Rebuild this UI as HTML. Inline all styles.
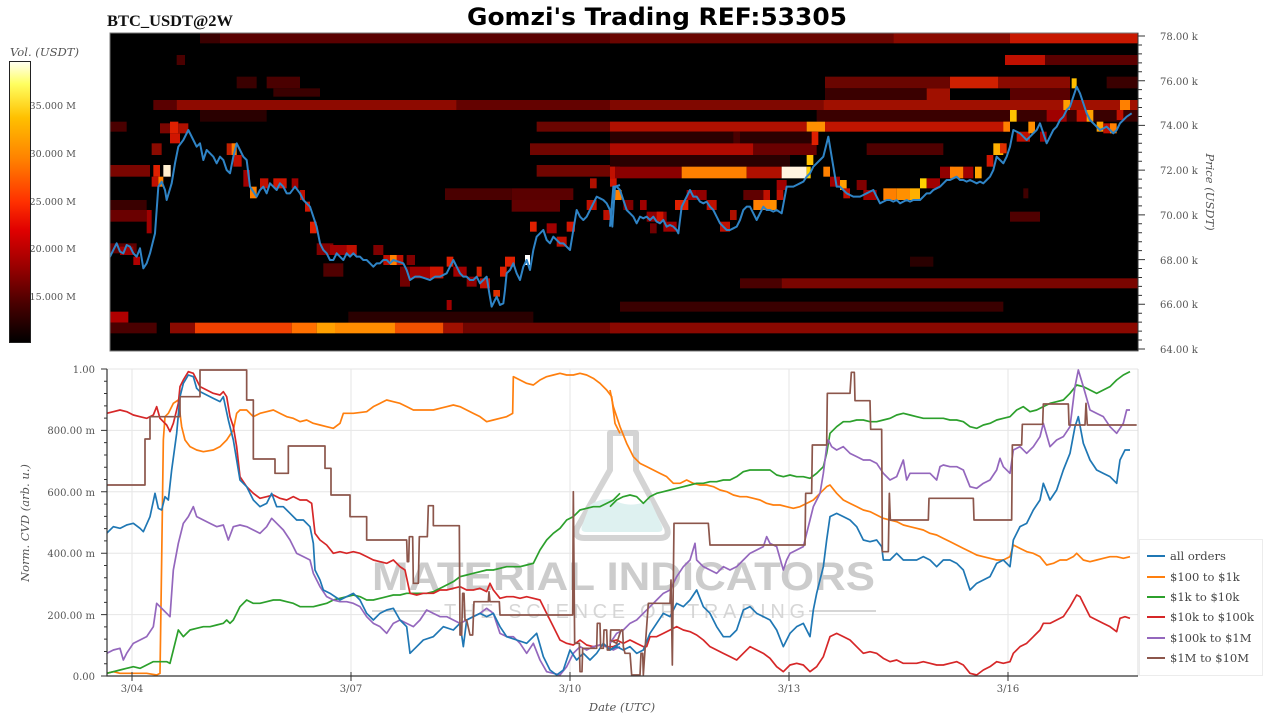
<!DOCTYPE html>
<html><head><meta charset="utf-8"><style>
html,body{margin:0;padding:0;background:#fff;}
svg{display:block;}
.tk{font-family:"DejaVu Serif","Liberation Serif",serif;font-size:10px;fill:#555;}
.lg{font-family:"DejaVu Serif","Liberation Serif",serif;font-size:11.5px;fill:#444;}
.it{font-family:"DejaVu Serif","Liberation Serif",serif;font-style:italic;font-size:11.5px;fill:#555;}
</style></head><body>
<svg width="1280" height="720" viewBox="0 0 1280 720" xmlns="http://www.w3.org/2000/svg">
<defs>
<linearGradient id="cb" x1="0" y1="0" x2="0" y2="1">
<stop offset="0" stop-color="#fffff4"/><stop offset="0.08" stop-color="#ffff60"/><stop offset="0.2" stop-color="#ffc000"/><stop offset="0.35" stop-color="#ff8000"/><stop offset="0.5" stop-color="#ff3000"/><stop offset="0.6" stop-color="#e00000"/><stop offset="0.72" stop-color="#a00000"/><stop offset="0.86" stop-color="#4a0000"/><stop offset="1" stop-color="#000"/>
</linearGradient>
<clipPath id="hc"><rect x="110" y="33" width="1028" height="318"/></clipPath>
<clipPath id="bc"><rect x="107" y="366" width="1031" height="312"/></clipPath>
</defs>
<rect width="1280" height="720" fill="#fff"/>

<!-- titles -->
<text x="467" y="25" font-family="DejaVu Sans,Liberation Sans,sans-serif" font-weight="bold" font-size="24" textLength="380" lengthAdjust="spacingAndGlyphs" fill="#000">Gomzi's Trading REF:53305</text>
<text x="107" y="26" font-family="Liberation Serif,DejaVu Serif,serif" font-weight="bold" font-size="16" textLength="126" lengthAdjust="spacingAndGlyphs" fill="#111">BTC_USDT@2W</text>

<!-- colorbar -->
<text x="10" y="56" class="it" textLength="69" lengthAdjust="spacingAndGlyphs">Vol. (USDT)</text>
<g class="tk" text-anchor="end" style="font-size:9.6px">
<text x="76" y="109">35.000 M</text><text x="76" y="157">30.000 M</text><text x="76" y="205">25.000 M</text><text x="76" y="252">20.000 M</text><text x="76" y="300">15.000 M</text>
</g>
<rect x="9.5" y="61.5" width="21" height="281" fill="url(#cb)" stroke="#222" stroke-width="1"/>

<!-- heatmap -->
<rect x="110" y="33" width="1028" height="318" fill="#000"/>
<g clip-path="url(#hc)">
<g transform="translate(100,30) scale(0.33333)">
<rect x="300" y="10" width="60" height="30" fill="#3a0000"/><rect x="360" y="10" width="1200" height="30" fill="#5a0000"/>
<rect x="230" y="75" width="25" height="30" fill="#4a0000"/>
<rect x="410" y="140" width="60" height="35" fill="#3a0000"/><rect x="500" y="140" width="100" height="35" fill="#4a0000"/><rect x="520" y="175" width="140" height="25" fill="#3a0000"/>
<rect x="160" y="210" width="70" height="30" fill="#5a0000"/><rect x="230" y="210" width="840" height="30" fill="#8e0a00"/><rect x="1070" y="210" width="490" height="30" fill="#640200"/>
<rect x="300" y="240" width="200" height="35" fill="#2a0000"/>
<rect x="30" y="275" width="50" height="30" fill="#4a0000"/><rect x="1310" y="275" width="250" height="30" fill="#6a0500"/>
<rect x="1290" y="340" width="270" height="35" fill="#700500"/>
<rect x="30" y="405" width="120" height="35" fill="#7a0500"/><rect x="1310" y="405" width="250" height="35" fill="#700500"/>
<rect x="1035" y="475" width="200" height="35" fill="#4a0000"/><rect x="1235" y="475" width="185" height="35" fill="#5a0000"/>
<rect x="30" y="510" width="110" height="30" fill="#3a0000"/><rect x="1235" y="510" width="145" height="35" fill="#600000"/>
<rect x="30" y="540" width="110" height="35" fill="#6a0000"/>
<rect x="30" y="845" width="55" height="33" fill="#b00000"/><rect x="745" y="845" width="555" height="33" fill="#2a0000"/>
<rect x="30" y="878" width="140" height="32" fill="#4a0000"/><rect x="210" y="878" width="75" height="32" fill="#8a0a00"/><rect x="285" y="878" width="290" height="32" fill="#f04000"/><rect x="575" y="878" width="75" height="32" fill="#ff7000"/><rect x="650" y="878" width="55" height="32" fill="#ffa000"/><rect x="705" y="878" width="180" height="32" fill="#ff8c00"/><rect x="885" y="878" width="145" height="32" fill="#f05000"/><rect x="1030" y="878" width="60" height="32" fill="#a01000"/><rect x="1090" y="878" width="470" height="32" fill="#700500"/>
<!-- cells -->
<rect x="155" y="340" width="30" height="35" fill="#8a0a00"/><rect x="180" y="280" width="30" height="30" fill="#7a0500"/><rect x="210" y="275" width="25" height="35" fill="#e02000"/><rect x="210" y="310" width="30" height="30" fill="#d01500"/><rect x="235" y="280" width="30" height="30" fill="#b01000"/>
<rect x="160" y="405" width="20" height="35" fill="#e02000"/><rect x="190" y="405" width="22" height="35" fill="#fff0d0"/><rect x="155" y="440" width="20" height="30" fill="#c01000"/><rect x="175" y="440" width="15" height="30" fill="#ff8000"/>
<rect x="140" y="540" width="15" height="70" fill="#a00000"/>
<rect x="30" y="640" width="80" height="30" fill="#600000"/><rect x="60" y="650" width="40" height="25" fill="#a00000"/><rect x="100" y="680" width="20" height="25" fill="#b00000"/>
<rect x="380" y="340" width="30" height="35" fill="#c02000"/><rect x="395" y="340" width="15" height="35" fill="#ff8000"/><rect x="400" y="375" width="25" height="35" fill="#c01000"/><rect x="430" y="420" width="20" height="50" fill="#a00000"/><rect x="450" y="470" width="20" height="35" fill="#ff8000"/>
<rect x="480" y="445" width="25" height="30" fill="#c01000"/><rect x="520" y="445" width="40" height="30" fill="#d01500"/><rect x="575" y="445" width="20" height="30" fill="#a00000"/><rect x="600" y="480" width="15" height="30" fill="#c01000"/><rect x="615" y="515" width="15" height="30" fill="#d01500"/><rect x="630" y="575" width="20" height="35" fill="#e02000"/>
<rect x="650" y="640" width="50" height="35" fill="#800000"/><rect x="690" y="645" width="80" height="30" fill="#a00000"/><rect x="740" y="645" width="30" height="30" fill="#c01000"/><rect x="820" y="645" width="30" height="30" fill="#800000"/><rect x="850" y="675" width="60" height="30" fill="#c01000"/><rect x="870" y="675" width="20" height="30" fill="#ff8000"/><rect x="920" y="675" width="25" height="30" fill="#800000"/>
<rect x="670" y="700" width="60" height="40" fill="#500000"/><rect x="900" y="710" width="30" height="60" fill="#700000"/>
<rect x="930" y="710" width="100" height="35" fill="#a00000"/><rect x="990" y="710" width="40" height="35" fill="#d01500"/><rect x="1040" y="680" width="20" height="30" fill="#e02000"/><rect x="1060" y="710" width="40" height="30" fill="#a00000"/><rect x="1100" y="740" width="30" height="30" fill="#900000"/><rect x="1130" y="710" width="15" height="30" fill="#d02000"/><rect x="1140" y="745" width="30" height="30" fill="#c01000"/><rect x="1180" y="780" width="20" height="20" fill="#e03000"/><rect x="1200" y="710" width="20" height="30" fill="#e02000"/><rect x="1215" y="680" width="30" height="30" fill="#e02000"/><rect x="1275" y="675" width="15" height="30" fill="#ffffff"/>
<rect x="1040" y="810" width="15" height="30" fill="#a00000"/>
<rect x="1290" y="575" width="20" height="30" fill="#e02000"/><rect x="1340" y="580" width="30" height="30" fill="#a00000"/><rect x="1370" y="620" width="30" height="30" fill="#c01000"/><rect x="1400" y="575" width="25" height="30" fill="#d01500"/><rect x="1460" y="510" width="30" height="30" fill="#c01000"/><rect x="1470" y="445" width="20" height="30" fill="#b01000"/><rect x="1530" y="440" width="20" height="30" fill="#d01500"/><rect x="1510" y="540" width="20" height="30" fill="#c01000"/><rect x="1545" y="480" width="20" height="30" fill="#ff8000"/>
</g>
<g transform="translate(610,30) scale(0.33333)">
<rect x="0" y="10" width="850" height="30" fill="#6a0500"/><rect x="850" y="10" width="350" height="30" fill="#8a0a00"/><rect x="1200" y="10" width="390" height="30" fill="#c81800"/>
<rect x="1185" y="75" width="120" height="30" fill="#c01000"/><rect x="1305" y="75" width="285" height="30" fill="#5a0000"/>
<rect x="645" y="140" width="375" height="35" fill="#6a0500"/><rect x="1020" y="140" width="145" height="35" fill="#d02000"/><rect x="1165" y="140" width="215" height="35" fill="#8a0a00"/><rect x="1490" y="140" width="100" height="35" fill="#3a0000"/>
<rect x="645" y="175" width="305" height="35" fill="#3a0000"/><rect x="950" y="175" width="70" height="35" fill="#a01000"/><rect x="1200" y="175" width="180" height="35" fill="#5a0000"/>
<rect x="0" y="210" width="640" height="30" fill="#800800"/><rect x="640" y="210" width="950" height="30" fill="#a01000"/>
<rect x="620" y="240" width="970" height="35" fill="#3a0000"/>
<rect x="0" y="275" width="590" height="30" fill="#b01000"/><rect x="590" y="275" width="55" height="30" fill="#ff9000"/><rect x="645" y="275" width="555" height="30" fill="#c01500"/>
<rect x="0" y="305" width="620" height="35" fill="#2a0000"/><rect x="370" y="305" width="20" height="35" fill="#4a0000"/>
<rect x="0" y="340" width="430" height="35" fill="#b00a00"/><rect x="430" y="340" width="190" height="35" fill="#6a0000"/><rect x="770" y="340" width="230" height="35" fill="#500000"/>
<rect x="0" y="375" width="540" height="35" fill="#2a0000"/>
<rect x="0" y="410" width="215" height="35" fill="#8a0000"/><rect x="215" y="410" width="195" height="35" fill="#ff8000"/><rect x="410" y="410" width="105" height="35" fill="#b01000"/><rect x="515" y="410" width="75" height="35" fill="#fff4e0"/><rect x="590" y="410" width="12" height="35" fill="#ffd000"/>
<rect x="390" y="745" width="125" height="30" fill="#4a0000"/><rect x="515" y="745" width="1075" height="30" fill="#7a0500"/>
<rect x="30" y="815" width="1150" height="30" fill="#3a0000"/>
<rect x="0" y="878" width="1590" height="32" fill="#8a0800"/>
<rect x="900" y="680" width="70" height="30" fill="#2a0000"/>
<!-- cells -->
<rect x="0" y="410" width="15" height="35" fill="#c01000"/><rect x="15" y="480" width="15" height="30" fill="#ff8000"/><rect x="40" y="510" width="30" height="30" fill="#800000"/><rect x="90" y="510" width="20" height="30" fill="#a00000"/><rect x="110" y="545" width="60" height="30" fill="#900000"/><rect x="140" y="545" width="20" height="30" fill="#d01500"/><rect x="160" y="575" width="40" height="30" fill="#a00000"/><rect x="120" y="580" width="20" height="30" fill="#700000"/>
<rect x="195" y="510" width="40" height="30" fill="#e02000"/><rect x="230" y="480" width="30" height="30" fill="#a00000"/><rect x="260" y="480" width="30" height="30" fill="#900000"/><rect x="290" y="510" width="30" height="30" fill="#c01000"/><rect x="330" y="575" width="30" height="30" fill="#c01000"/><rect x="360" y="540" width="20" height="30" fill="#b01000"/><rect x="400" y="480" width="60" height="30" fill="#600000"/><rect x="430" y="510" width="50" height="30" fill="#ff8000"/><rect x="460" y="480" width="20" height="30" fill="#c01000"/><rect x="480" y="510" width="20" height="30" fill="#ff9000"/><rect x="500" y="480" width="20" height="30" fill="#c01000"/><rect x="500" y="450" width="30" height="30" fill="#a00000"/>
<rect x="605" y="305" width="20" height="40" fill="#e02000"/><rect x="590" y="375" width="20" height="30" fill="#ffc000"/><rect x="640" y="410" width="20" height="30" fill="#ff8000"/><rect x="660" y="440" width="30" height="30" fill="#a00000"/><rect x="690" y="450" width="20" height="30" fill="#ffa000"/><rect x="700" y="475" width="20" height="30" fill="#c01000"/><rect x="740" y="450" width="30" height="30" fill="#800000"/><rect x="760" y="480" width="40" height="30" fill="#a00000"/><rect x="820" y="475" width="40" height="35" fill="#ff8000"/><rect x="860" y="475" width="40" height="35" fill="#ff9000"/><rect x="900" y="475" width="30" height="35" fill="#ffb000"/><rect x="930" y="445" width="20" height="30" fill="#ffd000"/><rect x="950" y="445" width="40" height="30" fill="#a00000"/><rect x="990" y="410" width="40" height="35" fill="#900000"/><rect x="1020" y="410" width="40" height="35" fill="#ff8000"/><rect x="1060" y="410" width="30" height="35" fill="#a00000"/><rect x="1095" y="410" width="20" height="35" fill="#ffa000"/><rect x="1130" y="375" width="20" height="35" fill="#d01500"/><rect x="1150" y="340" width="30" height="35" fill="#ffb000"/><rect x="1170" y="340" width="20" height="30" fill="#e03000"/>
<rect x="1200" y="240" width="20" height="35" fill="#ffc000"/><rect x="1180" y="275" width="20" height="30" fill="#ff8000"/><rect x="1220" y="305" width="40" height="30" fill="#c01000"/><rect x="1255" y="275" width="20" height="35" fill="#ff9000"/><rect x="1290" y="305" width="20" height="30" fill="#a00000"/><rect x="1310" y="240" width="60" height="35" fill="#a00000"/><rect x="1360" y="210" width="20" height="30" fill="#ffa000"/><rect x="1385" y="145" width="15" height="30" fill="#ffc000"/><rect x="1400" y="240" width="40" height="35" fill="#c01000"/><rect x="1430" y="240" width="20" height="35" fill="#ffa000"/><rect x="1460" y="275" width="20" height="30" fill="#ffa000"/><rect x="1480" y="280" width="30" height="30" fill="#c01000"/><rect x="1500" y="280" width="20" height="30" fill="#ff8000"/><rect x="1520" y="240" width="20" height="30" fill="#c01000"/><rect x="1530" y="210" width="30" height="30" fill="#ff8000"/><rect x="1545" y="210" width="15" height="30" fill="#ff8000"/>
<rect x="1240" y="475" width="15" height="30" fill="#400000"/><rect x="1200" y="545" width="90" height="30" fill="#500000"/>
</g>
<!-- price line -->
<g transform="translate(100,30) scale(0.33333)" fill="none" stroke="#2f84c6" stroke-width="2" stroke-linejoin="round">
<polyline vector-effect="non-scaling-stroke" points="24,710 24,640 30,680 50,640 60,665 70,670 80,645 90,650 100,670 110,680 120,655 130,715 140,700 150,670 165,610 175,470 185,455 195,480 200,510 215,460 225,400 235,350 250,330 265,300 280,330 290,350 300,340 310,390 320,360 330,370 340,380 350,400 360,380 370,390 380,420 390,430 400,380 410,340 420,360 430,380 440,390 450,470 470,500 480,480 490,470 500,490 510,460 520,470 530,480 540,460 550,470 560,490 570,490 585,470 600,490 610,510 620,520 630,530 640,560 650,590 660,640 670,660 680,670 690,690 700,690 710,670 720,680 730,690 740,670 750,680 760,670 770,680 780,680 790,690 800,690 810,700 820,710 830,700 840,700 850,690 860,690 870,700 880,690 895,695 910,700 920,720 930,750 945,740 960,740 975,745 990,750 1005,740 1020,740 1040,730 1060,690 1070,710 1080,730 1090,740 1100,740 1110,750 1120,750 1130,740 1140,760 1150,750 1160,740 1168,790 1175,830 1185,810 1190,800 1200,825 1210,820 1215,780 1220,730 1230,720 1240,700 1250,730 1260,750 1270,710 1280,690 1290,720 1300,660 1310,620 1320,610 1330,600 1340,630 1350,640 1360,620 1370,630 1380,640 1390,640 1400,650 1410,660 1420,600 1430,540 1440,560 1450,570 1460,560 1470,540 1480,520 1490,500 1500,505 1510,510 1520,520 1530,540 1537,590 1545,470 1560,465"/>
</g>
<g transform="translate(610,30) scale(0.33333)" fill="none" stroke="#2f84c6" stroke-width="2" stroke-linejoin="round">
<polyline vector-effect="non-scaling-stroke" points="0,590 10,470 20,470 30,480 40,510 50,540 60,550 70,560 80,580 90,560 100,565 110,560 120,570 130,560 140,575 150,580 160,570 170,590 180,585 190,590 200,600 205,610 215,530 225,510 240,480 250,500 260,500 270,515 280,520 290,515 300,530 310,540 320,560 330,580 340,590 350,600 360,600 370,595 380,590 390,570 400,540 410,530 420,530 430,550 440,570 450,550 460,530 470,540 480,540 490,545 500,540 515,550 530,470 540,470 550,470 560,465 570,460 580,455 590,440 600,430 610,410 620,400 630,390 640,380 645,360 655,320 665,380 675,440 680,470 690,470 700,480 710,490 720,495 730,500 740,500 750,500 760,495 770,490 780,485 790,480 800,500 810,520 820,515 830,510 840,510 850,515 860,510 870,520 880,515 890,510 900,515 910,510 920,510 930,510 940,500 950,490 960,490 970,480 980,475 990,470 1000,460 1010,450 1020,450 1030,445 1040,440 1050,450 1060,450 1070,455 1080,450 1090,455 1100,460 1110,455 1120,460 1130,450 1140,440 1150,420 1160,380 1170,390 1180,400 1190,380 1200,350 1210,300 1220,305 1230,310 1240,320 1250,330 1260,320 1270,310 1280,300 1290,280 1300,310 1310,340 1320,320 1330,300 1340,290 1350,270 1360,260 1370,240 1380,230 1390,200 1400,170 1410,190 1420,220 1430,250 1440,270 1450,280 1460,290 1470,300 1480,295 1490,290 1500,300 1510,310 1520,300 1530,280 1540,270 1550,260 1565,250"/>
</g>
</g>
<rect x="110" y="33" width="1028" height="318" fill="none" stroke="#777" stroke-width="1"/>

<!-- price axis -->
<path d="M1138,33V351" stroke="#333" stroke-width="1"/>
<path stroke="#333" stroke-width="1" d="M1138,36h7M1138,44.94h4M1138,53.89h4M1138,62.83h4M1138,71.77h4M1138,80.71h7M1138,89.66h4M1138,98.6h4M1138,107.54h4M1138,116.49h4M1138,125.43h7M1138,134.37h4M1138,143.31h4M1138,152.26h4M1138,161.2h4M1138,170.14h7M1138,179.09h4M1138,188.03h4M1138,196.97h4M1138,205.91h4M1138,214.86h7M1138,223.8h4M1138,232.74h4M1138,241.69h4M1138,250.63h4M1138,259.57h7M1138,268.51h4M1138,277.46h4M1138,286.4h4M1138,295.34h4M1138,304.29h7M1138,313.23h4M1138,322.17h4M1138,331.11h4M1138,340.06h4M1138,349h7"/>
<g class="tk">
<text x="1160" y="40">78.00 k</text><text x="1160" y="85">76.00 k</text><text x="1160" y="129">74.00 k</text><text x="1160" y="174">72.00 k</text><text x="1160" y="219">70.00 k</text><text x="1160" y="264">68.00 k</text><text x="1160" y="308">66.00 k</text><text x="1160" y="353">64.00 k</text>
</g>
<text class="it" transform="translate(1206,192) rotate(90)" text-anchor="middle">Price (USDT)</text>

<!-- bottom chart grid -->
<g stroke="#e6e6e6" stroke-width="1">
<path d="M107,369H1138M107,430.4H1138M107,491.8H1138M107,553.2H1138M107,614.6H1138"/>
<path d="M132,369V676M351,369V676M570,369V676M789,369V676M1008,369V676"/>
</g>
<path d="M1138,369V676" stroke="#ddd" stroke-width="1"/>

<!-- watermark -->
<g opacity="0.85">
<path d="M610,433 H636 V470 L667,528 Q670,538 660,538 H584 Q574,538 577,528 L610,470 Z" fill="none" stroke="#cdcdcd" stroke-width="6" stroke-linejoin="round"/>
<path d="M590,505 Q605,495 618,502 Q632,508 650,500 L662,526 Q664,532 658,532 H586 Q580,532 582,526 Z" fill="#d9efee"/>
<text x="372" y="590" font-family="Liberation Sans,DejaVu Sans,sans-serif" font-weight="bold" font-size="40" fill="#c4c4c4" textLength="503" lengthAdjust="spacingAndGlyphs">MATERIAL INDICATORS</text>
<text x="444" y="618" font-family="Liberation Sans,DejaVu Sans,sans-serif" font-size="20" fill="#cfcfcf" textLength="361" lengthAdjust="spacing">THE SCIENCE OF TRADING</text>
<path d="M372,611H440M809,611H876" stroke="#cfcfcf" stroke-width="2"/>
</g>

<!-- series -->
<g clip-path="url(#bc)" fill="none" stroke-width="1.7" stroke-linejoin="round">
<g transform="translate(100,360) scale(0.33333)">
<polyline vector-effect="non-scaling-stroke" stroke="#ff7f0e" points="20,940 40,935 60,940 100,940 140,940 170,945 180,940 185,600 190,240 195,170 205,160 220,130 235,120 245,200 255,240 270,260 290,270 310,275 340,270 360,260 380,240 400,210 410,160 420,150 440,150 460,170 480,160 500,155 520,150 540,160 560,170 580,175 600,185 620,180 640,190 660,195 680,200 700,205 720,190 730,160 760,160 800,155 820,140 840,130 860,120 880,125 900,130 920,140 940,150 960,150 980,150 1000,150 1020,145 1040,140 1060,135 1080,140 1100,150 1120,160 1140,170 1160,185 1180,180 1200,175 1220,170 1238,160 1240,50 1260,60 1280,70 1300,75 1320,60 1340,50 1360,45 1380,40 1400,45 1420,45 1440,40 1460,45 1480,55 1500,70 1520,90 1535,110 1545,190 1560,220"/>
<polyline vector-effect="non-scaling-stroke" stroke="#2ca02c" points="20,940 40,935 60,930 80,925 100,920 120,925 140,915 160,905 180,905 200,905 210,910 220,870 235,810 250,830 270,810 290,805 310,800 330,800 350,795 370,790 380,780 390,790 400,780 410,760 420,740 440,720 460,730 480,730 500,725 520,720 540,720 560,725 580,730 600,740 620,740 640,740 660,735 680,730 700,720 720,715 740,710 760,705 780,710 800,720 820,720 840,715 860,710 880,705 900,705 920,700 940,700 960,700 980,700 1000,695 1020,685 1040,675 1060,665 1080,650 1100,645 1120,640 1140,635 1160,630 1180,630 1200,625 1220,620 1240,620 1260,620 1280,615 1300,610 1320,570 1340,540 1360,520 1380,505 1400,480 1420,470 1440,450 1460,445 1480,440 1500,440 1520,430 1540,420 1560,400"/>
<polyline vector-effect="non-scaling-stroke" stroke="#d62728" points="20,160 40,155 60,150 80,155 100,165 120,170 140,175 160,165 170,140 180,175 200,195 210,215 220,190 235,130 240,80 250,60 265,35 280,40 290,60 300,80 320,90 340,100 360,105 370,95 380,110 390,170 400,200 410,260 420,350 440,380 460,400 480,415 500,410 520,405 540,415 560,420 580,410 600,420 620,420 635,430 645,520 660,540 680,555 700,580 720,575 740,580 760,575 780,580 800,590 820,600 840,605 860,610 880,600 900,620 915,630 930,700 950,705 970,700 1000,700 1020,690 1040,690 1060,685 1080,680 1100,690 1120,690 1140,685 1160,695 1170,670 1180,690 1200,715 1220,710 1240,710 1260,715 1280,710 1300,715 1320,720 1340,760 1360,800 1380,840 1400,850 1420,855 1440,840 1460,855 1480,860 1500,855 1520,860 1540,860 1560,850"/>
<polyline vector-effect="non-scaling-stroke" stroke="#9467bd" points="20,880 40,870 60,865 70,900 80,880 100,850 120,840 140,830 160,800 170,730 180,740 190,750 200,760 210,770 220,630 235,550 250,490 265,470 280,440 290,470 310,480 330,490 350,500 370,495 385,540 400,500 420,495 440,500 460,510 480,520 500,500 515,475 530,490 550,510 570,540 590,580 610,590 630,600 640,640 660,680 680,710 700,720 720,725 740,725 760,730 780,740 800,770 820,790 840,800 860,820 880,790 900,780 920,790 940,800 960,780 980,750 1000,760 1020,770 1040,770 1060,780 1080,790 1100,780 1120,770 1140,760 1160,745 1180,760 1200,820 1220,830 1240,830 1260,850 1280,880 1300,850 1320,900 1340,935 1360,940 1380,945 1400,920 1420,880 1440,860 1460,870 1480,860 1500,855 1520,860 1540,870 1560,860"/>
<polyline vector-effect="non-scaling-stroke" stroke="#1f77b4" points="20,520 40,500 60,505 80,495 100,490 120,505 130,515 150,470 165,400 175,445 185,450 195,410 205,420 215,330 230,220 240,110 250,70 265,45 280,50 290,85 300,95 320,105 340,115 360,125 370,110 385,180 400,240 420,360 440,380 460,420 480,440 500,430 515,400 530,440 550,440 570,460 590,480 610,480 630,500 640,550 645,630 660,660 670,690 690,700 720,720 740,710 760,700 780,720 800,760 820,780 840,760 860,750 880,745 900,780 920,800 930,880 950,860 970,840 1000,830 1030,800 1060,810 1080,790 1090,860 1100,780 1120,770 1140,760 1160,770 1180,760 1200,800 1220,830 1250,840 1280,850 1310,820 1330,890 1350,930 1370,945 1390,930 1410,870 1430,900 1450,880 1470,900 1490,880 1510,850 1530,870 1560,850"/>
<polyline vector-effect="non-scaling-stroke" stroke="#8c564b" points="20,375 135,375 135,237 150,237 150,170 240,170 240,110 300,110 300,30 440,30 440,120 460,120 460,297 525,297 525,340 565,340 565,258 675,258 675,325 693,325 693,405 750,405 750,470 800,470 800,540 920,540 922,605 926,605 928,530 938,530 940,670 955,670 958,530 982,530 985,437 1000,437 1000,497 1078,497 1080,825 1085,825 1088,700 1092,700 1095,780 1100,780 1110,825 1118,825 1122,725 1165,725 1167,695 1170,725 1198,725 1200,765 1418,765 1420,395 1424,850 1438,850 1440,935 1446,935 1448,865 1490,865 1492,790 1500,790 1502,865 1510,865 1512,810 1520,810 1522,870 1530,870 1532,810 1560,810"/>
</g>
<g transform="translate(610,360) scale(0.33333)">
<polyline vector-effect="non-scaling-stroke" stroke="#ff7f0e" points="0,90 10,140 30,200 50,250 70,290 90,310 110,320 130,330 150,340 170,350 190,370 210,370 230,360 250,370 270,375 290,375 310,380 330,390 350,395 370,405 390,410 410,410 430,415 450,420 470,430 490,435 510,435 530,440 550,445 570,440 590,430 610,420 630,400 650,380 660,375 680,400 700,420 720,430 740,440 760,450 780,455 800,465 820,475 840,480 860,485 880,495 900,500 920,505 940,510 960,520 980,525 1000,535 1020,545 1040,555 1060,565 1080,575 1100,585 1120,590 1140,595 1160,600 1180,600 1200,590 1210,555 1230,565 1250,575 1270,580 1290,590 1310,615 1330,610 1350,600 1370,600 1390,590 1400,580 1420,600 1440,605 1460,600 1480,595 1500,590 1520,590 1540,595 1560,590"/>
<polyline vector-effect="non-scaling-stroke" stroke="#2ca02c" points="0,440 20,420 40,410 60,405 80,410 100,430 120,410 140,400 160,395 180,390 200,385 220,380 240,375 260,370 280,370 300,365 320,365 340,360 360,360 380,350 400,335 420,330 440,330 460,330 480,330 500,345 520,350 540,345 560,350 580,350 600,355 620,340 640,320 650,280 660,220 680,200 700,185 720,185 740,180 760,180 780,185 800,185 820,180 840,175 860,165 880,160 900,165 920,170 940,175 960,175 980,175 1000,175 1020,180 1040,180 1060,185 1080,200 1100,205 1120,195 1140,190 1160,180 1180,175 1200,170 1220,150 1240,140 1260,155 1280,150 1300,140 1320,130 1340,125 1360,120 1380,100 1400,75 1420,80 1440,90 1460,100 1480,90 1500,80 1520,60 1540,45 1560,35"/>
<polyline vector-effect="non-scaling-stroke" stroke="#d62728" points="0,845 20,840 40,850 60,840 80,850 100,860 110,860 120,830 140,830 160,820 180,810 200,800 220,810 240,815 260,825 280,840 300,860 320,870 340,880 360,890 380,900 400,880 420,860 440,870 460,880 480,895 500,920 520,935 540,915 560,910 580,915 600,935 620,920 640,890 660,830 680,820 700,830 720,840 740,860 760,880 780,875 800,880 820,895 840,905 860,900 880,910 900,910 920,910 940,905 960,910 980,915 1000,915 1020,910 1040,905 1060,915 1080,940 1100,945 1120,930 1140,920 1160,905 1180,910 1200,905 1210,880 1230,860 1250,850 1270,830 1290,810 1300,790 1320,790 1340,780 1360,770 1380,740 1400,705 1410,710 1420,730 1440,770 1460,780 1480,790 1500,800 1520,815 1530,775 1545,770 1560,775"/>
<polyline vector-effect="non-scaling-stroke" stroke="#9467bd" points="0,850 20,820 40,810 60,790 80,780 100,760 120,740 140,720 160,700 180,690 200,650 220,620 240,600 255,550 260,600 280,620 300,630 320,640 340,620 360,630 380,620 400,600 420,580 440,570 460,560 470,530 480,550 500,560 520,630 530,600 540,580 560,570 580,560 590,520 600,480 610,440 630,400 640,340 650,260 655,240 665,260 680,270 700,260 720,280 740,290 760,300 780,300 800,310 820,340 840,360 860,350 880,300 890,360 900,340 920,340 940,340 960,340 980,360 990,320 1000,315 1020,320 1040,320 1060,330 1080,380 1100,385 1120,370 1140,360 1160,330 1170,295 1180,320 1200,340 1210,270 1230,260 1250,280 1270,260 1290,230 1300,190 1320,260 1340,240 1360,230 1380,200 1395,80 1405,30 1420,80 1440,150 1460,160 1480,170 1500,200 1520,220 1540,190 1550,150 1560,150"/>
<polyline vector-effect="non-scaling-stroke" stroke="#1f77b4" points="0,870 20,860 40,870 60,860 80,880 100,870 120,820 140,790 160,760 180,770 200,730 220,740 240,720 260,690 280,740 300,760 320,800 340,830 360,830 380,810 400,750 420,740 440,760 460,770 480,780 500,810 520,860 540,820 560,800 580,790 600,830 610,750 620,700 640,620 650,540 660,470 680,460 700,470 720,480 740,500 760,540 780,545 800,540 815,560 820,600 840,600 860,580 880,600 900,600 920,600 940,590 960,600 980,620 1000,600 1020,600 1040,610 1060,630 1080,690 1100,670 1120,660 1140,650 1160,610 1180,600 1200,620 1210,540 1230,500 1250,490 1270,450 1290,420 1300,370 1320,420 1340,390 1360,330 1380,280 1395,200 1405,170 1420,250 1440,300 1460,330 1480,340 1500,350 1520,370 1530,300 1545,270 1560,270"/>
<polyline vector-effect="non-scaling-stroke" stroke="#8c564b" points="0,840 20,850 33,810 38,810 40,860 45,880 60,880 65,945 90,945 93,880 98,880 100,945 105,870 115,730 180,730 183,660 187,915 192,490 295,490 300,555 585,555 587,400 605,400 607,255 650,255 652,100 720,100 724,37 733,37 735,122 780,122 782,208 815,208 817,575 835,575 838,400 841,480 955,480 957,415 1090,415 1092,480 1205,480 1207,255 1235,255 1237,193 1298,193 1300,132 1375,132 1377,195 1425,195 1428,130 1432,195 1580,195"/>
</g>
</g>

<!-- bottom axes -->
<path d="M107,369V676H1138" fill="none" stroke="#333" stroke-width="1.2"/>
<path stroke="#333" stroke-width="1" d="M107,369h-6M107,381.28h-3M107,393.56h-3M107,405.84h-3M107,418.12h-3M107,430.4h-6M107,442.68h-3M107,454.96h-3M107,467.24h-3M107,479.52h-3M107,491.8h-6M107,504.08h-3M107,516.36h-3M107,528.64h-3M107,540.92h-3M107,553.2h-6M107,565.48h-3M107,577.76h-3M107,590.04h-3M107,602.32h-3M107,614.6h-6M107,626.88h-3M107,639.16h-3M107,651.44h-3M107,663.72h-3M107,676h-6"/>
<path stroke="#333" stroke-width="1" d="M132,672v9M351,672v9M570,672v9M789,672v9M1008,672v9"/>
<g class="tk" text-anchor="end">
<text x="95" y="373">1.00</text><text x="95" y="434">800.00 m</text><text x="95" y="496">600.00 m</text><text x="95" y="557">400.00 m</text><text x="95" y="619">200.00 m</text><text x="95" y="680">0.00</text>
</g>
<g class="tk" text-anchor="middle">
<text x="132" y="692">3/04</text><text x="351" y="692">3/07</text><text x="570" y="692">3/10</text><text x="789" y="692">3/13</text><text x="1008" y="692">3/16</text>
</g>
<text class="it" x="622" y="711" text-anchor="middle">Date (UTC)</text>
<text class="it" transform="translate(29,523) rotate(-90)" text-anchor="middle">Norm. CVD (arb. u.)</text>

<!-- legend -->
<rect x="1139.5" y="539.5" width="123" height="136" fill="#fff" stroke="#ececec"/>
<g stroke-width="2">
<path d="M1147,556h18" stroke="#1f77b4"/><path d="M1147,577h18" stroke="#ff7f0e"/><path d="M1147,597h18" stroke="#2ca02c"/><path d="M1147,617h18" stroke="#d62728"/><path d="M1147,638h18" stroke="#9467bd"/><path d="M1147,658h18" stroke="#8c564b"/>
</g>
<g class="lg">
<text x="1170" y="560">all orders</text><text x="1170" y="581">$100 to $1k</text><text x="1170" y="601">$1k to $10k</text><text x="1170" y="621">$10k to $100k</text><text x="1170" y="642">$100k to $1M</text><text x="1170" y="662">$1M to $10M</text>
</g>
</svg>
</body></html>
